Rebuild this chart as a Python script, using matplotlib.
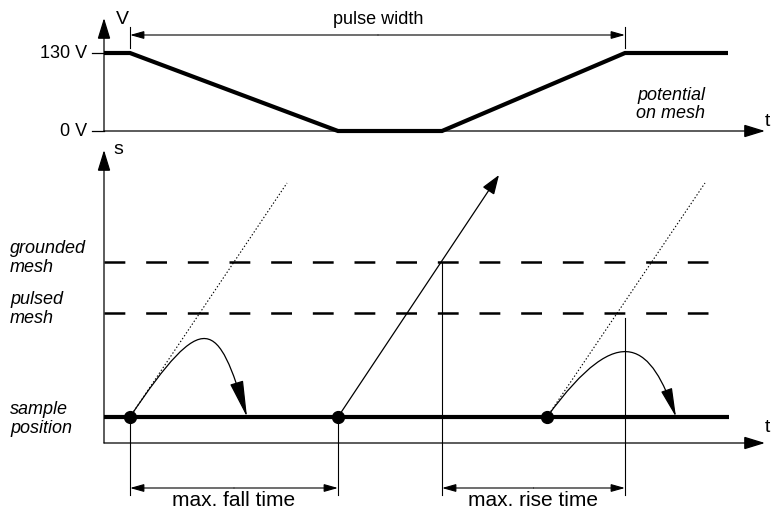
import matplotlib.pyplot as plt
from matplotlib.patches import FancyArrowPatch
from matplotlib.path import Path

plt.rcParams['font.family'] = ['Liberation Sans', 'DejaVu Sans']
plt.rcParams['lines.scale_dashes'] = False

# Schematic drawn in pixel units (x to the right, y downward)

# top panel: potential on mesh
pulse_t = [104, 130, 338, 442, 625, 728]
pulse_v = [130, 130, 0, 0, 130, 130]
v_ticks = [0, 130]
v_tick_labels = ['0 V', '130 V']
v_zero_y, v_full_y = 131, 53          # where 0 V and 130 V sit

# bottom panel: trajectories
axis_x = 104
t_axis_y = 443
sample_y = 417
mesh_levels = [262, 313]
mesh_labels = ['grounded\nmesh', 'pulsed\nmesh']
mesh_end = 708
sample_end = 729
start_t = [130, 338, 547]             # particle start times (dots)
dotted_ends = [(287, 183), (705, 183)]
escape_tip = (499, 175)
# curved (returning) paths: bezier control points + head size (pt)
curve1 = [(130, 417), (205, 305), (218, 321), (247, 417)]
curve2 = [(547, 417), (622, 314), (652, 348), (676, 417)]
curve_heads = [(23, 4.3), (18, 3.6)]
# leader lines (x, top y) and dimension arrows
leaders = [(130, 417), (338, 417), (442, 262), (625, 318)]
leader_bottom = 495
dims = [(130, 338, 'max. fall time'), (442, 625, 'max. rise time')]
dim_y = 488
pw_y = 35


def v2y(v):
    return v_zero_y + (v_full_y - v_zero_y) * v / 130.0


def arrow(ax, p0, p1, hl, hw, lw=0.9):
    ax.annotate('', xy=p1, xytext=p0,
                arrowprops=dict(arrowstyle=f'-|>,head_length={hl},head_width={hw}',
                                mutation_scale=1, lw=lw, color='black',
                                shrinkA=0, shrinkB=0, joinstyle='miter'))


fig = plt.figure(figsize=(7.71, 5.12), dpi=100)
ax = fig.add_axes([0, 0, 1, 1])
ax.set_xlim(0, 771)
ax.set_ylim(512, 0)
ax.axis('off')

# ---- top panel ----
arrow(ax, (axis_x, v_zero_y), (axis_x, 18), 13, 4)
arrow(ax, (axis_x, v_zero_y), (765, v_zero_y), 13, 4)
ax.text(122, 19, 'V', fontsize=14, ha='center', va='center')
ax.text(767, 121, 't', fontsize=14, ha='center', va='center')
for v, lab in zip(v_ticks, v_tick_labels):
    y = v2y(v)
    ax.plot([92, axis_x], [y, y], color='black', lw=0.9)
    ax.text(87, y, lab, fontsize=13, ha='right', va='center')

ax.plot(pulse_t, [v2y(v) for v in pulse_v], color='black', lw=3,
        solid_joinstyle='miter', solid_capstyle='butt')

# pulse width dimension
for x in (pulse_t[1], pulse_t[4]):
    ax.plot([x, x], [27, 48], color='black', lw=0.8)
arrow(ax, (378, pw_y), (pulse_t[1], pw_y), 8.5, 2.4, lw=0.8)
arrow(ax, (378, pw_y), (pulse_t[4], pw_y), 8.5, 2.4, lw=0.8)
ax.text(378, 19, 'pulse width', fontsize=13, ha='center', va='center')
ax.text(671, 96, 'potential', fontsize=13, style='italic', ha='center', va='center')
ax.text(671, 113, 'on mesh', fontsize=13, style='italic', ha='center', va='center')

# ---- bottom panel ----
arrow(ax, (axis_x, t_axis_y), (axis_x, 150), 13, 4)
arrow(ax, (axis_x, t_axis_y), (765, t_axis_y), 13, 4)
ax.text(118, 149, 's', fontsize=14, ha='center', va='center')
ax.text(767, 428, 't', fontsize=14, ha='center', va='center')

for y, lab in zip(mesh_levels, mesh_labels):
    ax.plot([axis_x, mesh_end], [y, y], color='black', lw=1.8, dashes=(15, 15))
    ax.text(10, y - 4, lab, fontsize=13, style='italic', ha='left', va='center',
            linespacing=1.2)

ax.plot([axis_x, sample_end], [sample_y, sample_y], color='black', lw=3,
        solid_capstyle='butt')
ax.text(10, 419, 'sample\nposition', fontsize=13, style='italic', ha='left',
        va='center', linespacing=1.2)

for t0, (xe, ye) in zip([start_t[0], start_t[2]], dotted_ends):
    ax.plot([t0, xe], [sample_y, ye], color='black', lw=0.8, dashes=(1, 1.5))

arrow(ax, (start_t[1], sample_y), escape_tip, 12, 4.3, lw=0.9)

for pts, (hl, hw) in zip((curve1, curve2), curve_heads):
    path = Path(pts, [Path.MOVETO, Path.CURVE4, Path.CURVE4, Path.CURVE4])
    ax.add_patch(FancyArrowPatch(path=path,
                                 arrowstyle=f'-|>,head_length={hl},head_width={hw}',
                                 mutation_scale=1, lw=0.9, color='black'))

ax.plot(start_t, [sample_y] * len(start_t), 'o', color='black', ms=8.5, zorder=5)

for x, ytop in leaders:
    ax.plot([x, x], [ytop, leader_bottom], color='black', lw=0.8)

for x0, x1, lab in dims:
    xm = (x0 + x1) / 2
    arrow(ax, (xm, dim_y), (x0, dim_y), 8.5, 2.4, lw=0.8)
    arrow(ax, (xm, dim_y), (x1, dim_y), 8.5, 2.4, lw=0.8)
    ax.text(xm, 501, lab, fontsize=15, ha='center', va='center')

fig.savefig('out.png', dpi=100)
